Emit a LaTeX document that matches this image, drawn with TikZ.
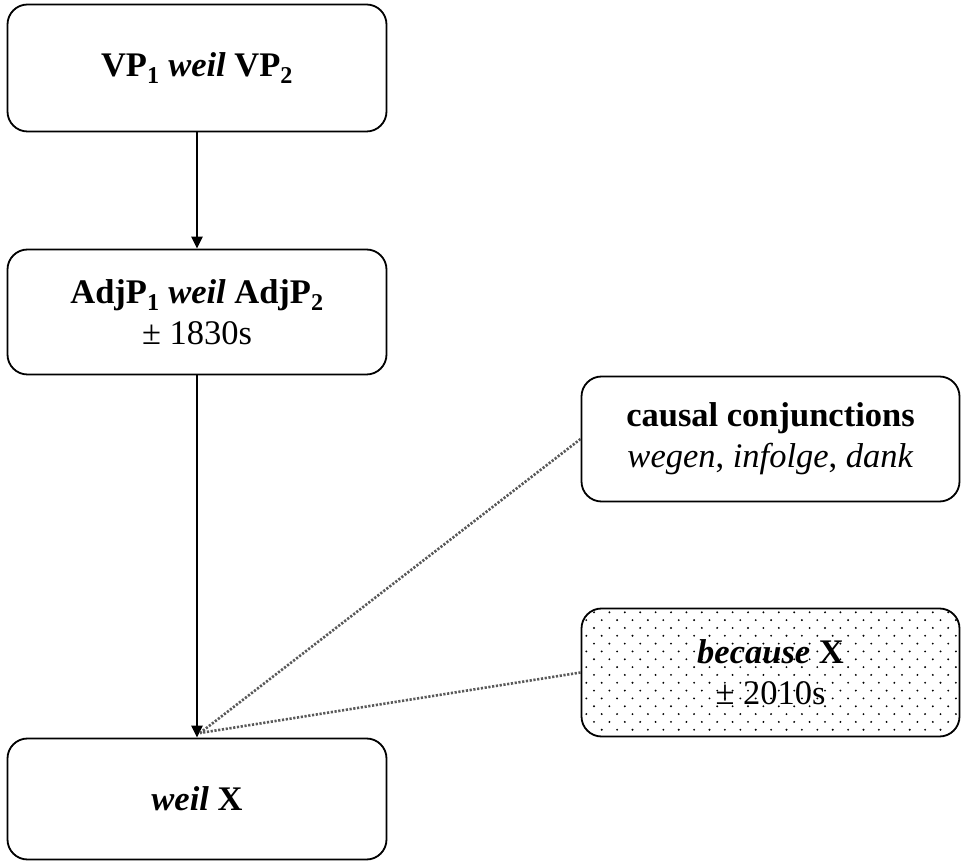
\documentclass[tikz,border=0pt]{standalone}
\usepackage{fontspec}
\setmainfont{Liberation Serif}
\usetikzlibrary{arrows.meta}
\begin{document}
\begin{tikzpicture}[x=1pt,y=1pt,
  box/.style={draw=black, line width=1.8pt, rounded corners=20pt, align=center,
    inner sep=0pt, font=\fontsize{34.5}{43}\selectfont},
  leftbox/.style={box, minimum width=379pt},
  rightbox/.style={box, minimum width=378pt},
  develop/.style={line width=2.6pt, -{Triangle[width=11pt,length=12pt]}},
  link/.style={gray!70!black, line width=2.6pt, dash pattern=on 2.2pt off 1.6pt}
]
\useasboundingbox (0,0) rectangle (962,863);

% the stages of the weil construction
\node[leftbox, minimum height=127pt] (vp) at (197,795)
  {\textbf{VP\textsubscript{1} \textit{weil} VP\textsubscript{2}}};
\node[leftbox, minimum height=125pt] (adjp) at (197,551)
  {\textbf{AdjP\textsubscript{1} \textit{weil} AdjP\textsubscript{2}}\\[-2pt] ± 1830s};
\node[leftbox, minimum height=121pt] (weilx) at (197,64)
  {\textbf{\textit{weil} X}};

% dotted background of the because box
\begin{scope}
  \clip[rounded corners=20pt] (581.5,126.5) rectangle (959.5,254.5);
  \foreach \j in {0,...,17}{
    \pgfmathsetmacro{\yy}{250.7-7.83*\j}
    \pgfmathsetmacro{\xs}{isodd(\j) ? 586.3 : 578.6}
    \foreach \i in {0,...,25}{
      \fill[black] (\xs+15.4*\i,\yy) circle (1.05pt);
    }
  }
\end{scope}

% related constructions
\node[rightbox, minimum height=125pt] (causal) at (770.5,424)
  {\textbf{causal conjunctions}\\[-2pt] \textit{wegen}, \textit{infolge}, \textit{dank}};
\node[rightbox, minimum height=128pt] (because) at (770.5,190.5)
  {\textbf{\textit{because} X}\\[-2pt] ± 2010s};

\coordinate (meet) at (200,130);

% connectors
\draw[develop] (vp.south) -- (adjp.north);
\draw[develop] (adjp.south) -- (weilx.north);
\draw[link] (causal.west) -- (meet);
\draw[link] (because.west) -- (meet);
\end{tikzpicture}
\end{document}
